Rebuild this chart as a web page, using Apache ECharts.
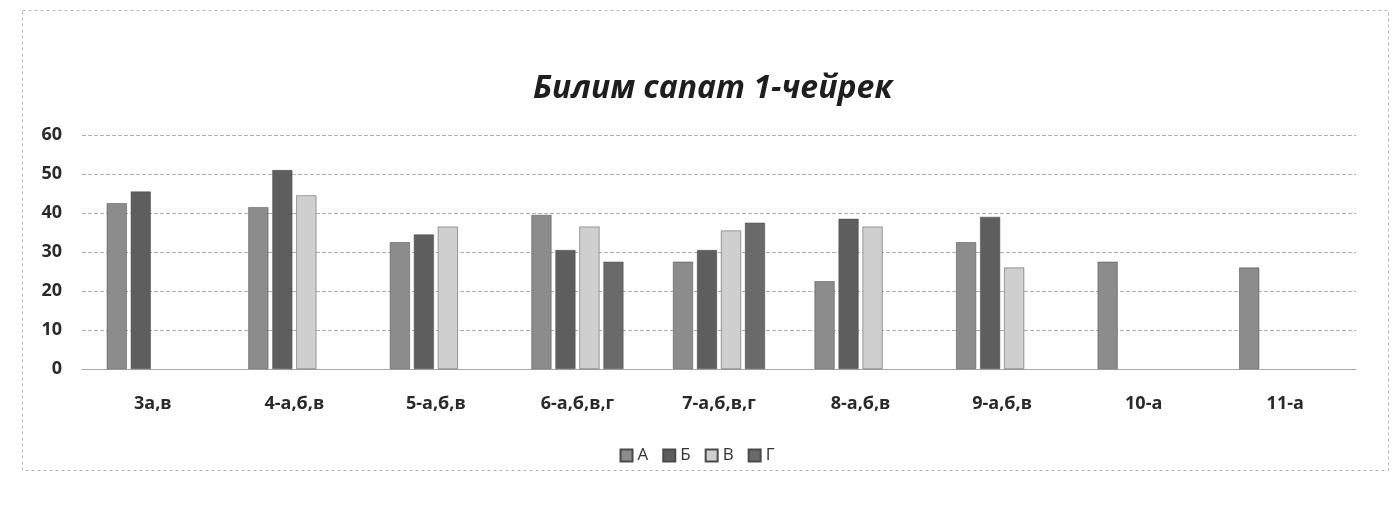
<!DOCTYPE html>
<html>
<head>
<meta charset="utf-8">
<title>Билим сапат 1-чейрек</title>
<script src="https://cdn.jsdelivr.net/npm/echarts@6/dist/echarts.min.js"></script>
<style>
  html, body { margin: 0; padding: 0; background: #fff; }
  #chart { width: 1394px; height: 521px; }
</style>
</head>
<body>
<div id="chart"></div>
<script>
// classes and per-letter quality values (approximate)
const classes = ['3а,в', '4-а,б,в', '5-а,б,в', '6-а,б,в,г', '7-а,б,в,г', '8-а,б,в', '9-а,б,в', '10-а', '11-а']
const valuesA = [42.5, 41.5, 32.5, 39.5, 27.5, 22.5, 32.5, 27.5, 26]
const valuesB = [45.5, 51, 34.5, 30.5, 30.5, 38.5, 39, null, null]
const valuesV = [null, 44.5, 36.5, 36.5, 35.5, 36.5, 26, null, null]
const valuesG = [null, null, null, 27.5, 37.5, null, null, null, null]
const yTicks = [0, 10, 20, 30, 40, 50, 60]

const chart = echarts.init(document.getElementById('chart'))

const makeSeries = (name, data, color) => ({
  name,
  type: 'bar',
  data,
  barWidth: 20,
  barGap: '20%',
  itemStyle: {
    color,
    borderColor: '#4a4a4a',
    borderWidth: 0.5
  }
})

const option = {
  backgroundColor: '#fff',
  title: {
    text: 'Билим сапат 1-чейрек',
    left: 528,
    top: 68,
    textStyle: {
      fontFamily: 'Open Sans',
      fontSize: 32,
      fontStyle: 'italic',
      fontWeight: 'bold',
      color: '#1e1e1e'
    }
  },
  legend: {
    data: ['А', 'Б', 'В', 'Г'],
    bottom: 52,
    left: 'center',
    icon: 'rect',
    itemWidth: 12,
    itemHeight: 12,
    itemGap: 14,
    textStyle: {
      fontFamily: 'Open Sans',
      fontSize: 17,
      color: '#333'
    }
  },
  grid: {
    left: 82,
    right: 38,
    top: 135,
    bottom: 152
  },
  xAxis: {
    type: 'category',
    data: classes,
    axisTick: { show: false },
    axisLine: { lineStyle: { color: '#a8a8a8' } },
    axisLabel: {
      margin: 26,
      fontFamily: 'Open Sans',
      fontSize: 18,
      fontWeight: 'bold',
      color: '#2a2a2a'
    }
  },
  yAxis: {
    type: 'value',
    min: yTicks[0],
    max: yTicks[yTicks.length - 1],
    interval: 10,
    axisLine: { show: false },
    axisTick: { show: false },
    axisLabel: {
      margin: 20,
      fontFamily: 'Open Sans',
      fontSize: 18,
      fontWeight: 'bold',
      color: '#2a2a2a'
    },
    splitLine: {
      lineStyle: {
        color: '#b0b0b0',
        type: 'dashed'
      }
    }
  },
  series: [
    makeSeries('А', valuesA, '#8c8c8c'),
    makeSeries('Б', valuesB, '#5e5e5e'),
    makeSeries('В', valuesV, '#cfcfcf'),
    makeSeries('Г', valuesG, '#6a6a6a')
  ],
  graphic: [
    {
      type: 'rect',
      left: 20,
      top: 8,
      shape: { width: 1366, height: 460 },
      style: {
        fill: 'none',
        stroke: '#b8b8b8',
        lineWidth: 1,
        lineDash: [3, 3]
      },
      silent: true
    }
  ],
  animation: false
}

chart.setOption(option)
</script>
</body>
</html>
